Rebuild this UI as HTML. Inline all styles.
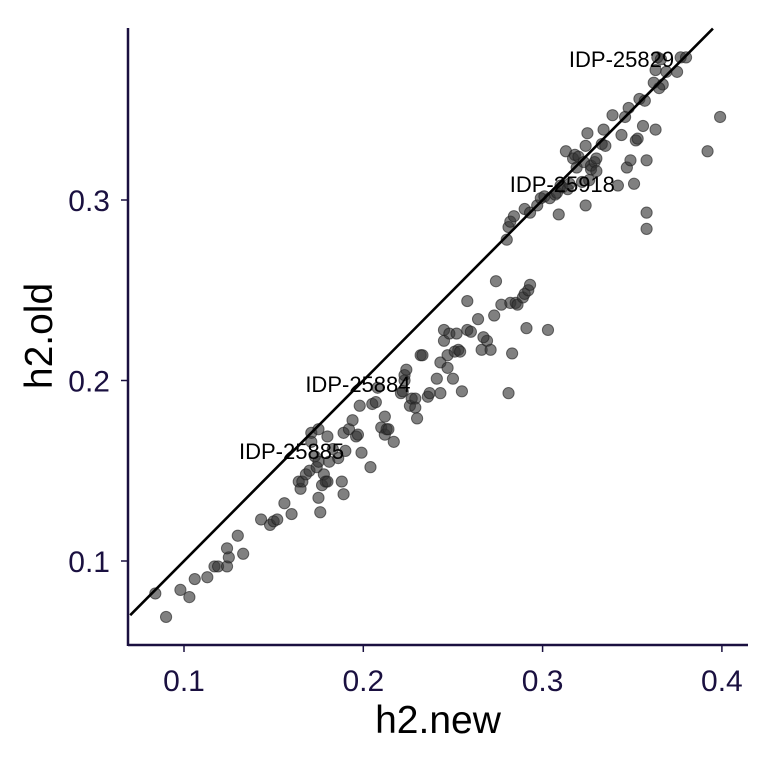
<!DOCTYPE html>
<html><head><meta charset="utf-8"><style>
body{margin:0;background:#fff;}
svg{display:block;font-family:"Liberation Sans",Arial,sans-serif;}
</style></head><body>
<svg id="chart" width="768" height="768"></svg>
<script>
const xs=[0.084,0.090,0.098,0.103,0.106,0.113,0.117,0.119,0.124,0.125,0.124,0.130,0.133,0.143,0.148,0.150,0.152,0.156,0.160,0.164,0.165,0.166,0.168,0.170,0.171,0.171,0.173,0.174,0.175,0.175,0.175,0.176,0.177,0.178,0.179,0.180,0.180,0.181,0.183,0.186,0.188,0.189,0.190,0.189,0.192,0.194,0.196,0.197,0.198,0.199,0.204,0.205,0.207,0.208,0.210,0.212,0.212,0.213,0.214,0.217,0.221,0.222,0.223,0.223,0.224,0.226,0.227,0.229,0.229,0.230,0.232,0.233,0.236,0.237,0.241,0.243,0.243,0.247,0.245,0.245,0.247,0.248,0.250,0.251,0.253,0.254,0.252,0.255,0.258,0.258,0.260,0.264,0.266,0.269,0.271,0.267,0.274,0.273,0.277,0.281,0.283,0.282,0.285,0.286,0.289,0.290,0.292,0.291,0.293,0.303,
0.280,0.281,0.282,0.284,0.290,0.293,0.297,0.299,0.301,0.304,0.307,0.308,0.309,0.310,0.311,0.313,0.314,0.315,0.317,0.318,0.319,0.320,0.322,0.323,0.324,0.324,0.325,0.326,0.327,0.327,0.329,0.330,0.330,0.333,0.334,0.335,0.339,0.342,0.344,0.347,0.348,0.349,0.351,0.352,0.353,0.354,0.356,0.357,0.358,0.358,0.358,0.362,0.363,0.363,0.364,0.366,0.367,0.369,0.375,0.377,0.380,0.392,0.399,0.346,0.365];
const ys=[0.082,0.069,0.084,0.080,0.090,0.091,0.097,0.097,0.097,0.102,0.107,0.114,0.104,0.123,0.120,0.122,0.123,0.132,0.126,0.144,0.140,0.144,0.148,0.150,0.171,0.166,0.158,0.152,0.155,0.135,0.173,0.127,0.142,0.148,0.144,0.144,0.169,0.155,0.162,0.157,0.144,0.137,0.161,0.171,0.173,0.178,0.169,0.170,0.186,0.160,0.152,0.187,0.188,0.196,0.174,0.180,0.170,0.173,0.173,0.166,0.193,0.194,0.200,0.203,0.206,0.186,0.190,0.190,0.185,0.179,0.214,0.214,0.191,0.193,0.201,0.210,0.193,0.214,0.228,0.222,0.207,0.226,0.201,0.216,0.217,0.216,0.226,0.194,0.228,0.244,0.227,0.234,0.217,0.222,0.217,0.224,0.255,0.236,0.242,0.193,0.215,0.243,0.243,0.242,0.246,0.248,0.250,0.229,0.253,0.228,
0.278,0.285,0.288,0.291,0.295,0.293,0.297,0.301,0.302,0.301,0.303,0.304,0.292,0.308,0.307,0.327,0.306,0.309,0.323,0.325,0.318,0.324,0.310,0.321,0.330,0.297,0.337,0.311,0.317,0.319,0.321,0.316,0.323,0.331,0.339,0.330,0.347,0.308,0.336,0.318,0.351,0.322,0.309,0.333,0.334,0.356,0.341,0.355,0.322,0.293,0.284,0.365,0.372,0.339,0.379,0.378,0.364,0.371,0.371,0.379,0.379,0.327,0.346,0.346,0.362];
const xTicks=[0.1,0.2,0.3,0.4];
const yTicks=[0.1,0.2,0.3];
const labelNames=["IDP-25829","IDP-25918","IDP-25884","IDP-25885"];
const labelX=[0.344,0.311,0.197,0.160];
const labelY=[0.378,0.309,0.198,0.161];

const NS="http://www.w3.org/2000/svg";
const svg=document.getElementById('chart');
const X=v=>184+(v-0.1)*1793;
const Y=v=>561-(v-0.1)*1805;
function mk(t,a){const e=document.createElementNS(NS,t);for(const k in a)e.setAttribute(k,a[k]);svg.appendChild(e);return e;}

for(let i=0;i<xs.length;i++){
  const c=mk('circle',{cx:X(xs[i]),cy:Y(ys[i]),r:5.6,fill:'rgba(50,50,50,0.62)',stroke:'rgba(30,30,30,0.6)','stroke-width':1});
  
  
}
const ref=mk('line',{x1:X(0.07),y1:Y(0.07),x2:X(0.395),y2:Y(0.395),stroke:'#000','stroke-width':2.6});


for(let i=0;i<labelNames.length;i++){
  const t=mk('text',{x:X(labelX[i]),y:Y(labelY[i])+8,'text-anchor':'middle','font-size':22,fill:'#000'});
  t.textContent=labelNames[i];
  
  
}
const ax=mk('line',{x1:128,y1:645,x2:748,y2:645,stroke:'#1a1040','stroke-width':2.5});


const ay=mk('line',{x1:128,y1:28,x2:128,y2:646,stroke:'#1a1040','stroke-width':2.5});


xTicks.forEach(v=>{
  const tk=mk('line',{x1:X(v),y1:645,x2:X(v),y2:652,stroke:'#1a1040','stroke-width':1.5});
  
  
  const t=mk('text',{x:X(v),y:691,'text-anchor':'middle','font-size':30,fill:'#1a1040'});
  t.textContent=v.toFixed(1);
  
  
});
yTicks.forEach(v=>{
  const tk=mk('line',{x1:121,y1:Y(v),x2:128,y2:Y(v),stroke:'#1a1040','stroke-width':1.5});
  
  
  const t=mk('text',{x:110,y:Y(v)+11,'text-anchor':'end','font-size':30,fill:'#1a1040'});
  t.textContent=v.toFixed(1);
  
  
});
const xt=mk('text',{x:438,y:733,'text-anchor':'middle','font-size':39,fill:'#000'});
xt.textContent='h2.new';


const yt=mk('text',{x:0,y:0,transform:'translate(52,336) rotate(-90)','text-anchor':'middle','font-size':39,fill:'#000'});
yt.textContent='h2.old';


</script>
</body></html>
